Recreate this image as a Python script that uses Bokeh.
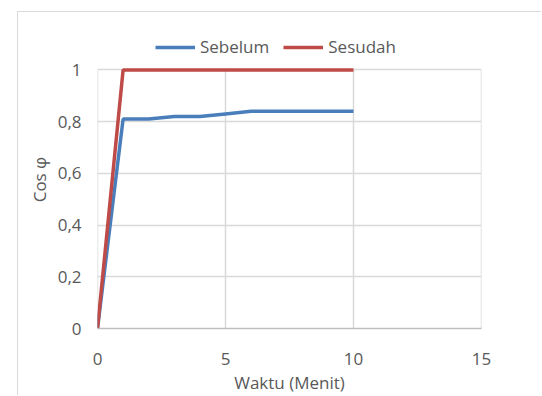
from bokeh.plotting import figure
from bokeh.models import Range1d, FixedTicker, CustomJSTickFormatter, Legend, LegendItem
from bokeh.embed import file_html
from bokeh.resources import INLINE

waktu = [0, 1, 2, 3, 4, 5, 6, 7, 8, 9, 10]
sebelum = [0, 0.81, 0.81, 0.82, 0.82, 0.83, 0.84, 0.84, 0.84, 0.84, 0.84]
sesudah = [0, 1, 1, 1, 1, 1, 1, 1, 1, 1, 1]
x_ticks = [0, 5, 10, 15]
y_ticks = [0, 0.2, 0.4, 0.6, 0.8, 1.0]

FONT = "Open Sans"
GREY = "#595959"
GRID = "#d9d9d9"

# frame: x 97..481, y 30..332 (value 1 at y=70, 262 px per unit)
Y_TOP = 1 + 40 / 262

p = figure(width=524, height=384, output_backend="svg", toolbar_location=None,
           x_range=Range1d(0, 15), y_range=Range1d(0, Y_TOP),
           min_border_left=79, min_border_right=61, min_border_top=18, min_border_bottom=64)
p.margin = (11, 0, 0, 17)
p.styles = {"border-top": "1px solid #d9d9d9", "border-left": "1px solid #d9d9d9"}
p.outline_line_color = None

# vertical gridlines limited to the value range 0..1
p.segment(x0=x_ticks, y0=[y_ticks[0]] * len(x_ticks), x1=x_ticks, y1=[y_ticks[-1]] * len(x_ticks),
          line_color=GRID, line_width=1.5)
p.xgrid.visible = False

r1 = p.line(waktu, sebelum, line_color="#4a7ebb", line_width=3.5)
r2 = p.line(waktu, sesudah, line_color="#be4b48", line_width=3.5)

p.xaxis.ticker = FixedTicker(ticks=x_ticks)
p.yaxis.ticker = FixedTicker(ticks=y_ticks)
p.yaxis.formatter = CustomJSTickFormatter(code="return (Math.round(tick*10)/10).toString().replace('.', ',');")

for ax in (p.xaxis[0], p.yaxis[0]):
    ax.major_tick_line_color = None
    ax.minor_tick_line_color = None
    ax.major_label_text_font = FONT
    ax.major_label_text_font_size = "17px"
    ax.major_label_text_color = GREY
    ax.axis_label_text_font = FONT
    ax.axis_label_text_font_size = "17px"
    ax.axis_label_text_color = GREY
    ax.axis_label_text_font_style = "normal"

p.xaxis.axis_line_color = "#bfbfbf"
p.xaxis.axis_line_width = 1.5
p.yaxis.axis_line_color = None
p.xaxis.major_label_standoff = 18
p.yaxis.major_label_standoff = 10
p.xaxis.axis_label = "Waktu (Menit)"
p.yaxis.axis_label = "Cos φ"
p.xaxis.axis_label_standoff = 3
p.yaxis.axis_label_standoff = 4

p.ygrid.ticker = FixedTicker(ticks=y_ticks)
p.ygrid.grid_line_color = GRID
p.ygrid.grid_line_width = 1.5

legend = Legend(items=[LegendItem(label="Sebelum", renderers=[r1]),
                       LegendItem(label="Sesudah", renderers=[r2])],
                orientation="horizontal", location=(58, 270),
                glyph_width=40, glyph_height=20, label_standoff=5, spacing=14,
                padding=0, margin=0, border_line_color=None, background_fill_alpha=0,
                label_text_font=FONT, label_text_font_size="17px", label_text_color=GREY)
p.add_layout(legend, "center")

open("out.html", "w").write(file_html(p, INLINE))
